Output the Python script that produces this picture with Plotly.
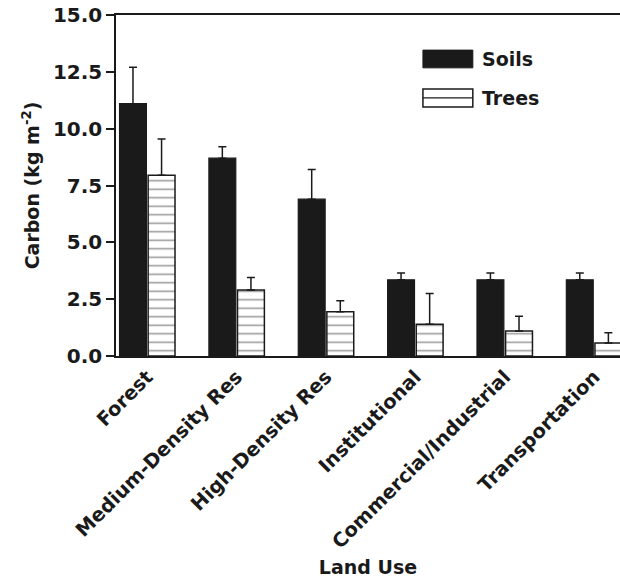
import plotly.graph_objects as go

categories = ["Forest", "Medium-Density Res", "High-Density Res", "Institutional",
              "Commercial/Industrial", "Transportation"]
soils = [11.1, 8.7, 6.9, 3.35, 3.35, 3.35]
soils_err = [1.6, 0.5, 1.3, 0.3, 0.3, 0.3]
trees = [7.95, 2.9, 1.95, 1.4, 1.1, 0.57]
trees_err = [1.6, 0.55, 0.48, 1.35, 0.65, 0.45]
yticks = [0, 2.5, 5.0, 7.5, 10.0, 12.5, 15.0]

FONT = "DejaVu Sans, Liberation Sans, Arial, sans-serif"
INK = "#1a1a1a"

fig = go.Figure()
fig.add_trace(go.Bar(
    x=categories, y=soils, name="Soils",
    marker=dict(color=INK, line=dict(color=INK, width=1.2)),
    error_y=dict(type="data", array=soils_err, arrayminus=[0] * len(soils),
                 symmetric=False, color=INK, thickness=1.5, width=4),
))
fig.add_trace(go.Bar(
    x=categories, y=trees, name="Trees",
    marker=dict(color="white", line=dict(color=INK, width=1.5),
                pattern=dict(shape="-", size=8.5, solidity=0.18,
                             fgcolor="#333333", bgcolor="white")),
    error_y=dict(type="data", array=trees_err, arrayminus=[0] * len(trees),
                 symmetric=False, color=INK, thickness=1.5, width=4),
))

# legend drawn manually (large swatches)
fig.add_shape(type="rect", xref="paper", yref="paper", x0=0.609, x1=0.708, y0=0.845, y1=0.897,
              fillcolor=INK, line=dict(color=INK, width=1))
fig.add_shape(type="rect", xref="paper", yref="paper", x0=0.609, x1=0.708, y0=0.730, y1=0.783,
              fillcolor="white", line=dict(color=INK, width=1.5))
fig.add_shape(type="line", xref="paper", yref="paper", x0=0.609, x1=0.708, y0=0.757, y1=0.757,
              line=dict(color=INK, width=1.2))
fig.add_annotation(text="Soils", xref="paper", yref="paper", x=0.722, y=0.871,
                   xanchor="left", yanchor="middle", showarrow=False,
                   font=dict(family=FONT, size=19, color=INK, weight="bold"))
fig.add_annotation(text="Trees", xref="paper", yref="paper", x=0.722, y=0.757,
                   xanchor="left", yanchor="middle", showarrow=False,
                   font=dict(family=FONT, size=19, color=INK, weight="bold"))

fig.update_layout(
    width=620, height=580,
    margin=dict(l=116, r=0, t=15, b=224),
    paper_bgcolor="white", plot_bgcolor="white",
    barmode="group", bargap=0.36, bargroupgap=0.06,
    showlegend=False,
    font=dict(family=FONT, color=INK),
    xaxis=dict(
        range=[-0.35, 5.29], tickangle=-45,
        showline=True, linecolor=INK, linewidth=1.5, mirror=True,
        ticks="", showgrid=False, automargin=False,
        tickfont=dict(family=FONT, size=19.5, color=INK, weight="bold"),
        title=dict(text="Land Use", standoff=8,
                   font=dict(family=FONT, size=19, color=INK, weight="bold")),
    ),
    yaxis=dict(
        range=[0, 15], tickvals=yticks, tickformat=".1f",
        showline=True, linecolor=INK, linewidth=1.5,
        ticks="outside", ticklen=8, tickwidth=1.5, tickcolor=INK,
        showgrid=False, zeroline=False, automargin=False,
        ticklabeloverflow="allow",
        tickfont=dict(family=FONT, size=20, color=INK, weight="bold"),
        title=dict(text="Carbon (kg m<sup>-2</sup>)", standoff=8,
                   font=dict(family=FONT, size=19, color=INK, weight="bold")),
    ),
)

fig.write_html("out.html", config={"displayModeBar": False},
               post_script="document.body.style.margin='0';")
